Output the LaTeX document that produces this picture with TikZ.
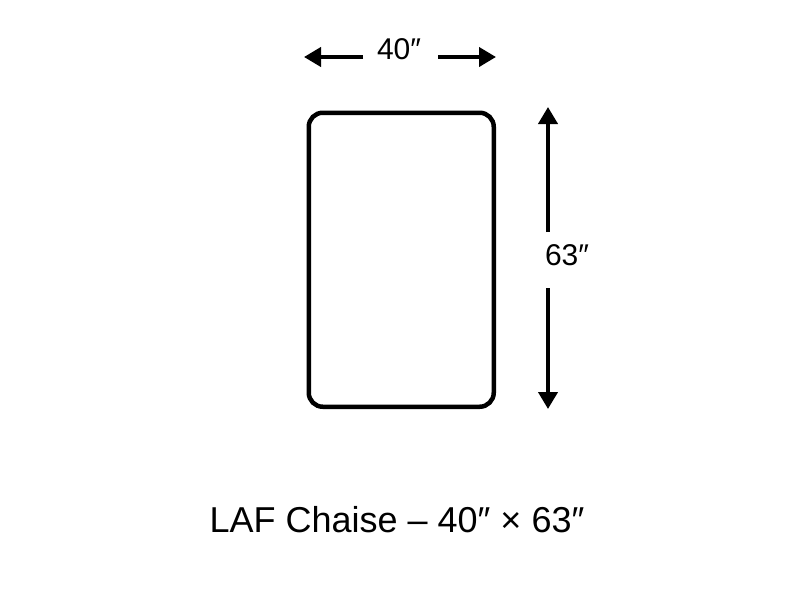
\documentclass[tikz,border=0pt]{standalone}
\usepackage{fontspec}
\setmainfont{Liberation Sans}
\usetikzlibrary{arrows.meta}
\begin{document}
\begin{tikzpicture}[x=1pt,y=-1pt,
  dimline/.style={line width=4pt,-{Triangle[width=19pt,length=17pt]}},
  dimlabel/.style={font=\fontsize{30}{34}\selectfont,inner sep=0pt},
  chaise/.style={draw,line width=4.5pt,rounded corners=14pt}]
\useasboundingbox (0,0) rectangle (800,600);
\node[chaise,minimum width=185pt,minimum height=294pt,anchor=north west] (seat) at (306.5,110.5) {};
% width dimension
\node[dimlabel] (w) at (399,49) {40″};
\coordinate (wl) at (363,57);
\coordinate (wr) at (438,57);
\coordinate (wlt) at (304,57);
\coordinate (wrt) at (496,57);
\draw[dimline] (wl) -- (wlt);
\draw[dimline] (wr) -- (wrt);
% height dimension
\node[dimlabel] (h) at (567,255) {63″};
\coordinate (ht) at (548,232);
\coordinate (hb) at (548,288);
\coordinate (htt) at (548,107);
\coordinate (hbt) at (548,409);
\draw[dimline] (ht) -- (htt);
\draw[dimline] (hb) -- (hbt);
% caption
\node[font=\fontsize{36}{40}\selectfont,inner sep=0pt] (cap) at (397,520) {LAF Chaise – 40″ × 63″};
\end{tikzpicture}
\end{document}
